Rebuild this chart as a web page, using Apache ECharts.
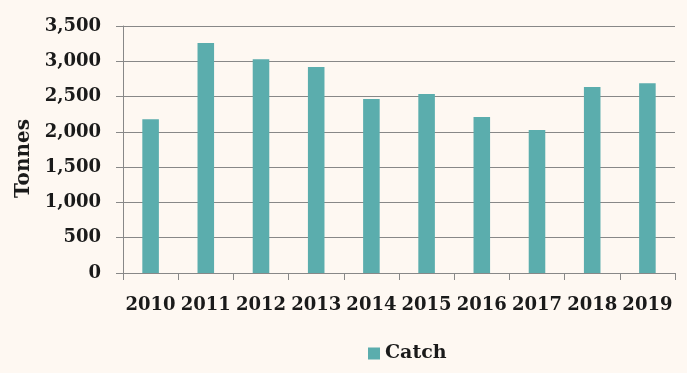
<!DOCTYPE html>
<html><head><meta charset="utf-8">
<script src="https://cdn.jsdelivr.net/npm/echarts@6/dist/echarts.min.js"></script>
<style>html,body{margin:0;padding:0;background:#FEF8F2}#c{width:687px;height:373px}</style>
</head><body><div id="c"></div>
<script>
var years = ['2010','2011','2012','2013','2014','2015','2016','2017','2018','2019'];
var catchValues = [2180, 3260, 3030, 2920, 2465, 2535, 2210, 2025, 2635, 2690];
var seriesName = 'Catch';
var yAxisName = 'Tonnes';

var font = 'DejaVu Serif';
var chart = echarts.init(document.getElementById('c'));
chart.setOption({
  backgroundColor: '#FEF8F2',
  animation: false,
  grid: {left: 123, right: 12, top: 26, bottom: 100},
  legend: {
    data: [seriesName], top: 339, left: 363,
    itemWidth: 12, itemHeight: 12, icon: 'rect', itemGap: 6,
    textStyle: {fontFamily: font, fontWeight: 'bold', fontSize: 19, color: '#1a1a1a'}
  },
  xAxis: {
    type: 'category', data: years,
    axisLine: {lineStyle: {color: '#888', width: 1}},
    axisTick: {show: true, length: 7, lineStyle: {color: '#888'}},
    axisLabel: {fontFamily: font, fontWeight: 'bold', fontSize: 18, color: '#1a1a1a', margin: 23, interval: 0}
  },
  yAxis: {
    type: 'value', min: 0, max: 3500, interval: 500,
    name: yAxisName, nameLocation: 'middle', nameGap: 83, nameRotate: 90,
    nameTextStyle: {fontFamily: font, fontWeight: 'bold', fontSize: 20, color: '#1a1a1a', padding: [0, 18, 0, 0]},
    axisLine: {show: true, lineStyle: {color: '#888', width: 1}},
    axisTick: {show: true, length: 7, lineStyle: {color: '#888'}},
    splitLine: {lineStyle: {color: '#888', width: 1}},
    axisLabel: {fontFamily: font, fontWeight: 'bold', fontSize: 18, color: '#1a1a1a', margin: 22,
      formatter: function(v){ return v.toLocaleString('en-US'); }}
  },
  series: [{
    name: seriesName, type: 'bar', data: catchValues, barWidth: '30%',
    itemStyle: {color: '#5BADAD'}
  }]
});
</script></body></html>
